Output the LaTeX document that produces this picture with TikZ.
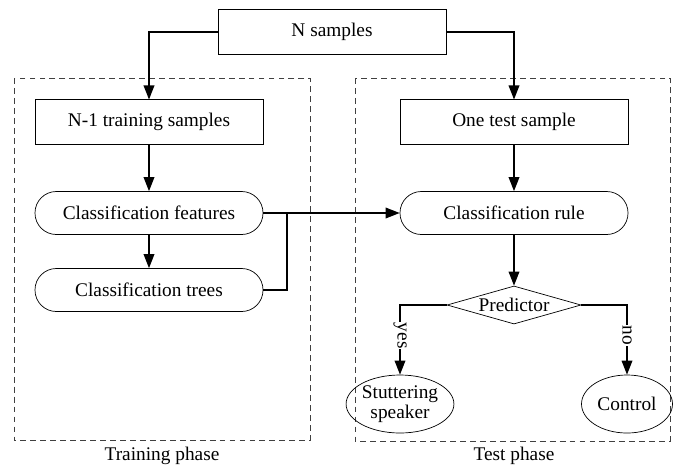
\documentclass[tikz,border=0pt]{standalone}
\usepackage{fontspec}
\setmainfont{Liberation Serif}
\usetikzlibrary{positioning, shapes.geometric, arrows.meta}

\begin{document}
\begin{tikzpicture}[x=0.03cm, y=-0.03cm, font=\fontsize{16.5}{18}\selectfont]
	\tikzset{box/.style={rectangle, draw, line width=0.6pt, minimum width=6.84cm, minimum height=1.33cm}}
	\tikzset{rbox/.style={box, rounded corners=0.64cm, minimum height=1.29cm}}
	\tikzset{decide/.style={diamond, draw, line width=0.6pt, aspect=2.9, minimum width=4.02cm, inner sep=0pt}}
	\tikzset{leaf/.style={ellipse, draw, line width=0.6pt, minimum width=2.73cm, minimum height=1.74cm, inner sep=0pt, align=center, font=\fontsize{16.5}{17}\selectfont}}
	\tikzset{phase/.style={draw=black!75, dash pattern=on 5pt off 3.5pt, line width=0.6pt}}
	\tikzset{arr/.style={-{Triangle[length=0.42cm, width=0.32cm]}, line width=1.1pt}}
	\tikzset{lnk/.style={line width=1.1pt}}
	\useasboundingbox (0,0) rectangle (681,468);

	% phases
	\draw[phase] (14,78) rectangle (310,440);
	\draw[phase] (355,78) rectangle (670,441);
	\node (train label) at (162,456) {Training phase};
	\node (test label) at (514,456) {Test phase};

	% boxes
	\node[box] (all) at (332,32) {N samples};
	\node[box] (train) at (149,122) {N-1 training samples};
	\node[box] (test) at (514,122) {One test sample};
	\node[rbox] (features) at (149,213) {Classification features};
	\node[rbox] (trees) at (149,290) {Classification trees};
	\node[rbox] (rule) at (514,213) {Classification rule};
	\node[decide] (predictor) at (514,305) {Predictor};
	\node[leaf] (stutter) at (400,404) {Stuttering\\speaker};
	\node[leaf] (control) at (627,404) {Control};

	% connectors
	\draw[arr] (all.west) -| (train.north);
	\draw[arr] (all.east) -| (test.north);
	\draw[arr] (train) -- (features);
	\draw[arr] (test) -- (rule);
	\draw[arr] (features) -- (trees);
	\draw[arr] (features) -- (rule);
	\coordinate (join) at (287,213);
	\draw[lnk] (trees.east) -| (join);
	\draw[arr] (rule) -- (predictor);
	\draw[arr] (predictor.west) -| node[pos=0.72, rotate=-90, fill=white, inner sep=0.5pt] {yes} (stutter.north);
	\draw[arr] (predictor.east) -| node[pos=0.72, rotate=-90, fill=white, inner sep=0.5pt] {no} (control.north);
\end{tikzpicture}
\end{document}
